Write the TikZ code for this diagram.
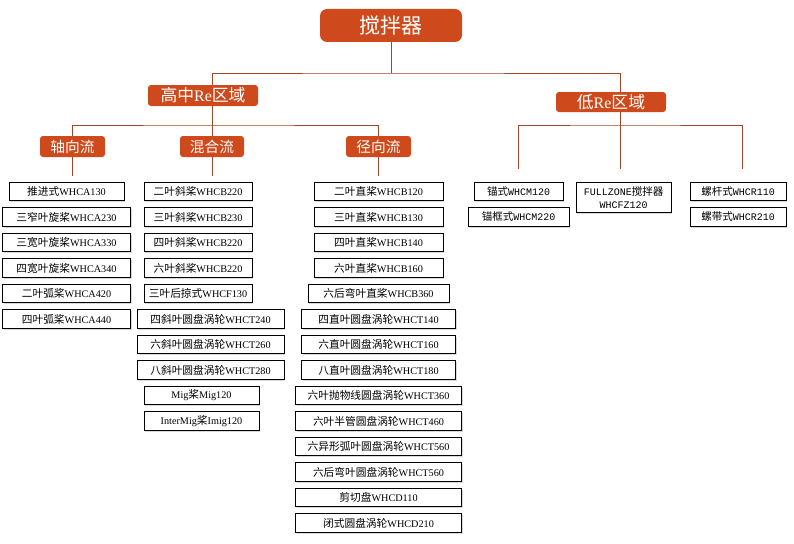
\documentclass[tikz,border=0pt]{standalone}
\usepackage{fontspec}
\setmainfont{Liberation Serif}
\newfontfamily\zhfont{Noto Sans CJK SC}[Scale=1.05]
\newfontfamily\leafmonofont{Liberation Mono}
\newcommand{\zhtext}[1]{{\zhfont #1}}
\usetikzlibrary{
  positioning,
  shadows}
\definecolor{headcolor}{RGB}{206,74,28}
\definecolor{linecolor}{RGB}{160,70,40}
\tikzset{
  connection_line/.style={draw=linecolor, line width=0.9pt}
}
\tikzset{
  %% root : the top box
  root/.style={
    rectangle,
    rounded corners=7pt,
    fill=headcolor,
    text=white,
    minimum width=142pt,
    minimum height=33pt,
    font=\zhfont\fontsize{20}{22}\selectfont
  },
  %% region : Re region boxes
  region/.style={
    rectangle,
    rounded corners=3pt,
    fill=headcolor,
    text=white,
    minimum width=110pt,
    minimum height=21pt,
    inner sep=1pt,
    font=\zhfont\fontsize{16}{18}\selectfont
  },
  %% flow : flow type boxes
  flow/.style={
    rectangle,
    rounded corners=3pt,
    fill=headcolor,
    text=white,
    minimum width=65pt,
    minimum height=21pt,
    inner sep=1pt,
    font=\zhfont\fontsize{14}{16}\selectfont
  },
  %% leaf : one impeller type
  leaf/.style={
    rectangle,
    draw=black,
    line width=1pt,
    fill=white,
    drop shadow={opacity=0.3, shadow xshift=1.3pt, shadow yshift=-1.3pt},
    minimum height=18.5pt,
    inner sep=2pt,
    align=center,
    font=\fontsize{10.2}{12}\selectfont
  },
  %% leafmono : impeller type, typewriter letters
  leafmono/.style={
    leaf,
    font=\leafmonofont\fontsize{10}{13}\selectfont
  }
}

\begin{document}
\begin{tikzpicture}
  [x=1pt,
  y=-1pt]
  \useasboundingbox (0,0) rectangle (794,543);

  %% Header boxes
  \node (root) [root] at (391,25.5) {搅拌器};

  \node (hi) [region] at (203,95.5) {高中{\rmfamily Re}区域};
  \node (lo) [region, minimum height=20pt] at (611,102) {低{\rmfamily Re}区域};

  \node (axial) [flow] at (72.5,146.5) {轴向流};
  \node (mixed) [flow, minimum width=64pt] at (212,146.5) {混合流};
  \node (radial) [flow] at (378.5,146.5) {径向流};

  %% Axial flow
  \node (a1) [leaf, minimum width=115pt] at (66.5,191.5) {\zhtext{推进式}WHCA130};
  \node (a2) [leaf, minimum width=128pt, below=6pt of a1] {\zhtext{三窄叶旋桨}WHCA230};
  \node (a3) [leaf, minimum width=128pt, below=6pt of a2] {\zhtext{三宽叶旋桨}WHCA330};
  \node (a4) [leaf, minimum width=128pt, below=6pt of a3] {\zhtext{四宽叶旋桨}WHCA340};
  \node (a5) [leaf, minimum width=128pt, below=6pt of a4] {\zhtext{二叶弧桨}WHCA420};
  \node (a6) [leaf, minimum width=128pt, below=6pt of a5] {\zhtext{四叶弧桨}WHCA440};

  %% Mixed flow
  \node (m1) [leaf, minimum width=108pt] at (198,191.5) {\zhtext{二叶斜桨}WHCB220};
  \node (m2) [leaf, minimum width=108pt, below=6pt of m1] {\zhtext{三叶斜桨}WHCB230};
  \node (m3) [leaf, minimum width=108pt, below=6pt of m2] {\zhtext{四叶斜桨}WHCB220};
  \node (m4) [leaf, minimum width=108pt, below=6pt of m3] {\zhtext{六叶斜桨}WHCB220};
  \node (m5) [leaf, minimum width=108pt, below=6pt of m4] {\zhtext{三叶后掠式}WHCF130};
  \node (m6) [leaf, minimum width=147pt, below=6pt of m5, xshift=12.5pt] {\zhtext{四斜叶圆盘涡轮}WHCT240};
  \node (m7) [leaf, minimum width=147pt, below=6pt of m6] {\zhtext{六斜叶圆盘涡轮}WHCT260};
  \node (m8) [leaf, minimum width=147pt, below=6pt of m7] {\zhtext{八斜叶圆盘涡轮}WHCT280};
  \node (m9) [leaf, minimum width=115pt, below=6pt of m8, xshift=-9pt] {Mig\zhtext{桨}Mig120};
  \node (m10) [leaf, minimum width=115pt, below=6pt of m9] {InterMig\zhtext{桨}Imig120};

  %% Radial flow
  \node (r1) [leaf, minimum width=129pt] at (378.5,191.5) {\zhtext{二叶直桨}WHCB120};
  \node (r2) [leaf, minimum width=129pt, below=6pt of r1] {\zhtext{三叶直桨}WHCB130};
  \node (r3) [leaf, minimum width=129pt, below=6pt of r2] {\zhtext{四叶直桨}WHCB140};
  \node (r4) [leaf, minimum width=129pt, below=6pt of r3] {\zhtext{六叶直桨}WHCB160};
  \node (r5) [leaf, minimum width=141pt, below=6pt of r4] {\zhtext{六后弯叶直桨}WHCB360};
  \node (r6) [leaf, minimum width=154pt, below=6pt of r5] {\zhtext{四直叶圆盘涡轮}WHCT140};
  \node (r7) [leaf, minimum width=154pt, below=6pt of r6] {\zhtext{六直叶圆盘涡轮}WHCT160};
  \node (r8) [leaf, minimum width=154pt, below=6pt of r7] {\zhtext{八直叶圆盘涡轮}WHCT180};
  \node (r9) [leaf, minimum width=166pt, below=6pt of r8] {\zhtext{六叶抛物线圆盘涡轮}WHCT360};
  \node (r10) [leaf, minimum width=166pt, below=6pt of r9] {\zhtext{六叶半管圆盘涡轮}WHCT460};
  \node (r11) [leaf, minimum width=166pt, below=6pt of r10] {\zhtext{六异形弧叶圆盘涡轮}WHCT560};
  \node (r12) [leaf, minimum width=166pt, below=6pt of r11] {\zhtext{六后弯叶圆盘涡轮}WHCT560};
  \node (r13) [leaf, minimum width=166pt, below=6pt of r12] {\zhtext{剪切盘}WHCD110};
  \node (r14) [leaf, minimum width=166pt, below=6pt of r13] {\zhtext{闭式圆盘涡轮}WHCD210};

  %% Low Re
  \node (anc1) [leafmono, minimum width=89pt] at (518.5,191.5) {\zhtext{锚式}WHCM120};
  \node (anc2) [leafmono, minimum width=101pt, minimum height=19.5pt, below=5.5pt of anc1] {\zhtext{锚框式}WHCM220};
  \node (fz) [leafmono, minimum width=95pt, minimum height=30pt] at (623.5,197.5) {FULLZONE\zhtext{搅拌器}\\WHCFZ120};
  \node (scr1) [leafmono, minimum width=96pt] at (738,191.5) {\zhtext{螺杆式}WHCR110};
  \node (scr2) [leafmono, minimum width=96pt, minimum height=19.5pt, below=5.5pt of scr1] {\zhtext{螺带式}WHCR210};

  %% Connections
  \coordinate (rootbus) at (391,73);
  \draw [connection_line] (root.south) -- (rootbus);
  \draw [connection_line] ([xshift=9pt]hi.north) |- (rootbus) -| ([xshift=9pt]lo.north);

  \coordinate (hibus) at (212,125);
  \draw [connection_line] ([xshift=9pt]hi.south) -- (mixed.north);
  \draw [connection_line] (axial.north) |- (hibus) -| (radial.north);
  \draw [connection_line, shorten >=6pt] (axial.south) -- (axial.south |- a1.north);
  \draw [connection_line, shorten >=6pt] (mixed.south) -- (mixed.south |- m1.north);
  \draw [connection_line, shorten >=6pt] (radial.south) -- (radial.south |- r1.north);

  \coordinate (lobus) at (620,125);
  \draw [connection_line, shorten >=13pt] ([xshift=9pt]lo.south) -- ([xshift=9pt]lo.south |- fz.north);
  \draw [connection_line, shorten <=13pt, shorten >=13pt] (anc1.north) |- (lobus) -| ([xshift=4pt]scr1.north);

\end{tikzpicture}
\end{document}
